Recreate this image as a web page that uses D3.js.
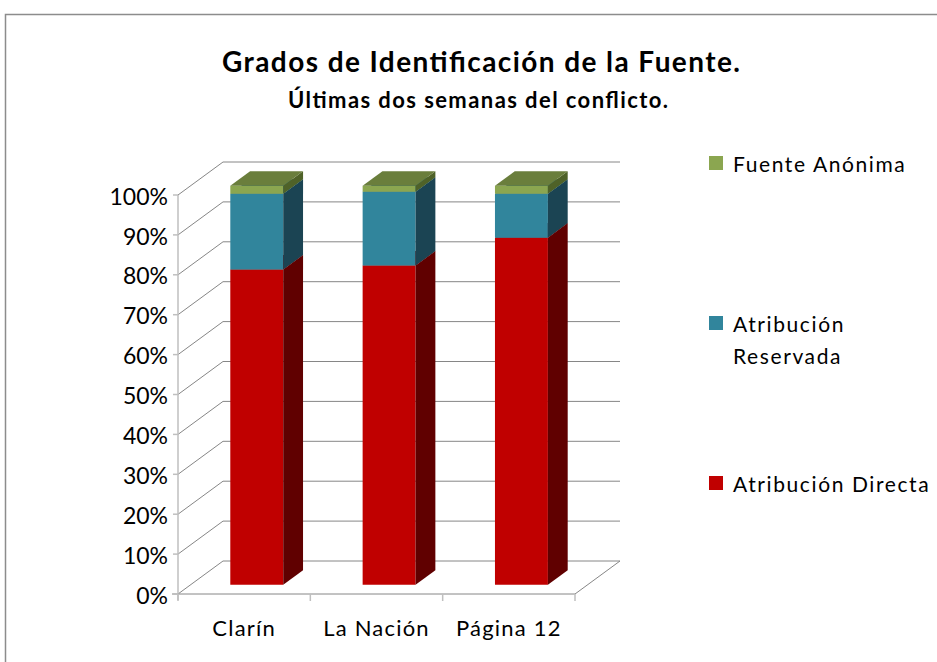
<!DOCTYPE html>
<html>
<head>
<meta charset="utf-8">
<script src="https://cdn.jsdelivr.net/npm/d3@7"></script>
<style>
  body { margin: 0; background: #fff; }
  svg { display: block; font-family: Lato, "Open Sans", sans-serif; }
</style>
</head>
<body>
<svg id="chart" width="937" height="662"></svg>
<script>
// Chart data
const categories = ["Clarín", "La Nación", "Página 12"];
const directa = [79, 80, 87];
const reservada = [19, 18.5, 11];
const anonima = [2, 1.5, 2];
const yTicks = [0, 10, 20, 30, 40, 50, 60, 70, 80, 90, 100];

const seriesNames = ["Atribución Directa", "Atribución Reservada", "Fuente Anónima"];
const seriesValues = [directa, reservada, anonima];

// Colours per series: front, side, top
const colors = [
  { front: "#C00000", side: "#600000", top: "#8a0000" },
  { front: "#31859C", side: "#1B4453", top: "#26687a" },
  { front: "#8BA650", side: "#4F6228", top: "#6A7E3C" }
];

const svg = d3.select("#chart");

// Outer frame
svg.append("rect")
  .attr("x", 5.5).attr("y", 14.5)
  .attr("width", 960).attr("height", 700)
  .attr("fill", "none")
  .attr("stroke", "#8c8c8c")
  .attr("stroke-width", 1.5);

// 3D plot geometry (front plane + depth offset)
const plot = { left: 178, right: 575, bottom: 594, top: 195 };
const depth = { dx: 45, dy: -33 };
const barDepth = [0.28, 0.72];

const x = d3.scaleBand()
  .domain(categories)
  .range([plot.left, plot.right])
  .paddingInner(0.6)
  .paddingOuter(0.3);

const y = d3.scaleLinear().domain([0, 100]).range([plot.bottom, plot.top]);

// project a (x, y) point on the front plane to depth d
const P = (px, py, d) => [px + depth.dx * d, py + depth.dy * d];
const poly = (pts) => "M" + pts.map((p) => p.join(",")).join("L") + "Z";

const grid = svg.append("g").attr("class", "grid");

// back wall gridlines
grid.selectAll(".back-line")
  .data(yTicks)
  .enter()
  .append("line")
  .attr("x1", (d) => P(plot.left, y(d), 1)[0])
  .attr("x2", (d) => P(plot.right, y(d), 1)[0])
  .attr("y1", (d) => P(plot.left, y(d), 1)[1])
  .attr("y2", (d) => P(plot.right, y(d), 1)[1])
  .attr("stroke", "#868686")
  .attr("stroke-width", 1);

// side wall diagonals
grid.selectAll(".side-line")
  .data(yTicks)
  .enter()
  .append("line")
  .attr("x1", plot.left)
  .attr("y1", (d) => y(d))
  .attr("x2", (d) => P(plot.left, y(d), 1)[0])
  .attr("y2", (d) => P(plot.left, y(d), 1)[1])
  .attr("stroke", "#868686")
  .attr("stroke-width", 1);

// floor front and right edges
grid.append("path")
  .attr("d", "M" + [plot.left - 6, plot.bottom] + "L" + [plot.right, plot.bottom] + "L" + P(plot.right, plot.bottom, 1))
  .attr("fill", "none")
  .attr("stroke", "#868686")
  .attr("stroke-width", 1);

// vertical axis line + ticks
grid.append("line")
  .attr("x1", plot.left).attr("x2", plot.left)
  .attr("y1", y(100)).attr("y2", plot.bottom + 6)
  .attr("stroke", "#BFBFBF")
  .attr("stroke-width", 1.5);

grid.selectAll(".ytick")
  .data(yTicks)
  .enter()
  .append("line")
  .attr("x1", plot.left - 5).attr("x2", plot.left)
  .attr("y1", (d) => y(d)).attr("y2", (d) => y(d))
  .attr("stroke", "#BFBFBF")
  .attr("stroke-width", 1.5);

// category ticks on the floor edge
const catEdges = [plot.left].concat(categories.map((c) => x(c) + x.bandwidth() + x.step() * x.paddingInner() / 2));
catEdges[catEdges.length - 1] = plot.right;
grid.selectAll(".xtick")
  .data(catEdges)
  .enter()
  .append("line")
  .attr("x1", (d) => d).attr("x2", (d) => d)
  .attr("y1", plot.bottom).attr("y2", plot.bottom + 7)
  .attr("stroke", "#BFBFBF")
  .attr("stroke-width", 1.5);

// y labels
svg.append("g")
  .selectAll("text")
  .data(yTicks)
  .enter()
  .append("text")
  .attr("x", plot.left - 10)
  .attr("y", (d) => y(d))
  .attr("dy", "0.42em")
  .attr("text-anchor", "end")
  .attr("font-size", 23)
  .attr("fill", "#000")
  .text((d) => d + "%");

// x labels
svg.append("g")
  .selectAll("text")
  .data(categories)
  .enter()
  .append("text")
  .attr("x", (d) => x(d) + x.bandwidth() / 2)
  .attr("y", 636)
  .attr("text-anchor", "middle")
  .attr("font-size", 22)
  .attr("letter-spacing", 1.2)
  .attr("fill", "#000")
  .text((d) => d);

// stacked 3D bars
const stacked = categories.map((c, i) => {
  let acc = 0;
  return seriesValues.map((vals, s) => {
    const seg = { cat: c, s: s, y0: acc, y1: acc + vals[i] };
    acc += vals[i];
    return seg;
  });
});

const bars = svg.append("g").attr("class", "bars");
stacked.forEach((segs) => {
  segs.forEach((seg) => {
    const xl = x(seg.cat), xr = x(seg.cat) + x.bandwidth();
    const yb = y(seg.y0), yt = y(seg.y1);
    const d0 = barDepth[0], d1 = barDepth[1];
    const g = bars.append("g");
    // front
    g.append("path")
      .attr("d", poly([P(xl, yb, d0), P(xr, yb, d0), P(xr, yt, d0), P(xl, yt, d0)]))
      .attr("fill", colors[seg.s].front);
    // side
    g.append("path")
      .attr("d", poly([P(xr, yb, d0), P(xr, yb, d1), P(xr, yt, d1), P(xr, yt, d0)]))
      .attr("fill", colors[seg.s].side);
    // top
    g.append("path")
      .attr("d", poly([P(xl, yt, d0), P(xr, yt, d0), P(xr, yt, d1), P(xl, yt, d1)]))
      .attr("fill", colors[seg.s].top);
  });
});

// legend
const legendItems = [
  { s: 2, lines: ["Fuente Anónima"], y: 164 },
  { s: 1, lines: ["Atribución", "Reservada"], y: 324 },
  { s: 0, lines: ["Atribución Directa"], y: 484 }
];
const legend = svg.append("g").attr("class", "legend");
legendItems.forEach((it) => {
  legend.append("rect")
    .attr("x", 709).attr("y", it.y - 8)
    .attr("width", 14).attr("height", 14)
    .attr("fill", colors[it.s].front);
  const t = legend.append("text")
    .attr("x", 733)
    .attr("y", it.y)
    .attr("font-size", 21)
    .attr("letter-spacing", 1.6)
    .attr("fill", "#000");
  it.lines.forEach((ln, i) => {
    t.append("tspan")
      .attr("x", 733)
      .attr("dy", i === 0 ? "0.38em" : "1.52em")
      .text(ln);
  });
});

// titles
svg.append("text")
  .attr("x", 481).attr("y", 72)
  .attr("text-anchor", "middle")
  .attr("font-size", 28)
  .attr("font-weight", "bold")
  .attr("textLength", 518)
  .attr("lengthAdjust", "spacing")
  .text("Grados de Identificación de la Fuente.");

svg.append("text")
  .attr("x", 478).attr("y", 108)
  .attr("text-anchor", "middle")
  .attr("font-size", 22)
  .attr("font-weight", "bold")
  .attr("textLength", 380)
  .attr("lengthAdjust", "spacing")
  .text("Últimas dos semanas del conflicto.");
</script>
</body>
</html>
